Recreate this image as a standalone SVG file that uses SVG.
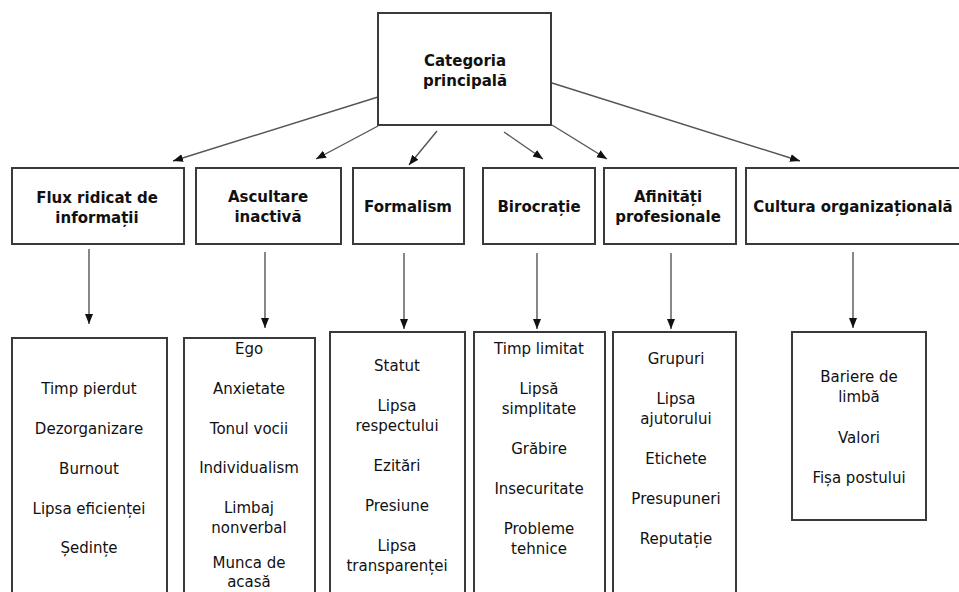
<svg xmlns="http://www.w3.org/2000/svg" width="959" height="592" viewBox="0 0 959 592">
<style>
rect.box{fill:#fff;stroke:#3a3a3a;stroke-width:2}
line.c{stroke:#555;stroke-width:1.4;marker-end:url(#ah)}
text{font-family:"DejaVu Sans","Liberation Sans",sans-serif;fill:#111;text-anchor:middle}
.h{font-weight:bold;font-size:15px}
.t{font-size:15px}
</style>
<defs>
<marker id="ah" markerUnits="userSpaceOnUse" markerWidth="10" markerHeight="10" viewBox="0 0 10 10" refX="10" refY="5" orient="auto">
<path d="M0,1 L10,5 L0,9 Z" fill="#111"/>
</marker>
</defs>
<rect width="959" height="592" fill="#fff"/>
<g id="connectors">
<line class="c" x1="378" y1="97" x2="173" y2="161"/>
<line class="c" x1="378" y1="126" x2="316" y2="159"/>
<line class="c" x1="437" y1="131" x2="409" y2="165"/>
<line class="c" x1="504" y1="132" x2="543" y2="159"/>
<line class="c" x1="552" y1="125" x2="607" y2="159"/>
<line class="c" x1="552" y1="83" x2="800" y2="161"/>
<line class="c" x1="89" y1="249" x2="89" y2="324"/>
<line class="c" x1="265" y1="252" x2="265" y2="328"/>
<line class="c" x1="404" y1="253" x2="404" y2="329"/>
<line class="c" x1="537" y1="253" x2="537" y2="329"/>
<line class="c" x1="671" y1="253" x2="671" y2="329"/>
<line class="c" x1="853" y1="252" x2="853" y2="328"/>
</g>
<g id="root">
<rect class="box" x="378" y="13" width="173" height="112"/>
<text class="h" x="465" y="66">Categoria</text>
<text class="h" x="465" y="86">principală</text>
</g>
<g id="c1">
<rect class="box" x="12" y="168" width="172" height="76"/>
<text class="h" x="97" y="203">Flux ridicat de</text>
<text class="h" x="97" y="223">informații</text>
</g>
<g id="c2">
<rect class="box" x="196" y="168" width="145" height="76"/>
<text class="h" x="268" y="202">Ascultare</text>
<text class="h" x="268" y="222">inactivă</text>
</g>
<g id="c3">
<rect class="box" x="353" y="168" width="111" height="76"/>
<text class="h" x="408" y="212">Formalism</text>
</g>
<g id="c4">
<rect class="box" x="483" y="168" width="112" height="76"/>
<text class="h" x="539" y="212">Birocrație</text>
</g>
<g id="c5">
<rect class="box" x="604" y="168" width="132" height="76"/>
<text class="h" x="668" y="202">Afinități</text>
<text class="h" x="668" y="222">profesionale</text>
</g>
<g id="c6">
<rect class="box" x="746" y="168" width="214" height="76"/>
<text class="h" x="853" y="212">Cultura organizațională</text>
</g>
<g id="l1">
<rect class="box" x="12" y="338" width="155" height="270"/>
<text class="t" x="89" y="394">Timp pierdut</text>
<text class="t" x="89" y="434">Dezorganizare</text>
<text class="t" x="89" y="474">Burnout</text>
<text class="t" x="89" y="514">Lipsa eficienței</text>
<text class="t" x="89" y="553">Ședințe</text>
</g>
<g id="l2">
<rect class="box" x="184" y="338" width="131" height="270"/>
<text class="t" x="249" y="354">Ego</text>
<text class="t" x="249" y="394">Anxietate</text>
<text class="t" x="249" y="434">Tonul vocii</text>
<text class="t" x="249" y="473">Individualism</text>
<text class="t" x="249" y="513">Limbaj</text>
<text class="t" x="249" y="533">nonverbal</text>
<text class="t" x="249" y="568">Munca de</text>
<text class="t" x="249" y="587">acasă</text>
</g>
<g id="l3">
<rect class="box" x="330" y="332" width="135" height="276"/>
<text class="t" x="397" y="371">Statut</text>
<text class="t" x="397" y="411">Lipsa</text>
<text class="t" x="397" y="431">respectului</text>
<text class="t" x="397" y="471">Ezitări</text>
<text class="t" x="397" y="511">Presiune</text>
<text class="t" x="397" y="551">Lipsa</text>
<text class="t" x="397" y="571">transparenței</text>
</g>
<g id="l4">
<rect class="box" x="474" y="332" width="131" height="276"/>
<text class="t" x="539" y="354">Timp limitat</text>
<text class="t" x="539" y="394">Lipsă</text>
<text class="t" x="539" y="414">simplitate</text>
<text class="t" x="539" y="454">Grăbire</text>
<text class="t" x="539" y="494">Insecuritate</text>
<text class="t" x="539" y="534">Probleme</text>
<text class="t" x="539" y="554">tehnice</text>
</g>
<g id="l5">
<rect class="box" x="613" y="332" width="123" height="276"/>
<text class="t" x="676" y="364">Grupuri</text>
<text class="t" x="676" y="404">Lipsa</text>
<text class="t" x="676" y="424">ajutorului</text>
<text class="t" x="676" y="464">Etichete</text>
<text class="t" x="676" y="504">Presupuneri</text>
<text class="t" x="676" y="544">Reputație</text>
</g>
<g id="l6">
<rect class="box" x="792" y="332" width="134" height="188"/>
<text class="t" x="859" y="382">Bariere de</text>
<text class="t" x="859" y="402">limbă</text>
<text class="t" x="859" y="443">Valori</text>
<text class="t" x="859" y="483">Fișa postului</text>
</g>
</svg>
